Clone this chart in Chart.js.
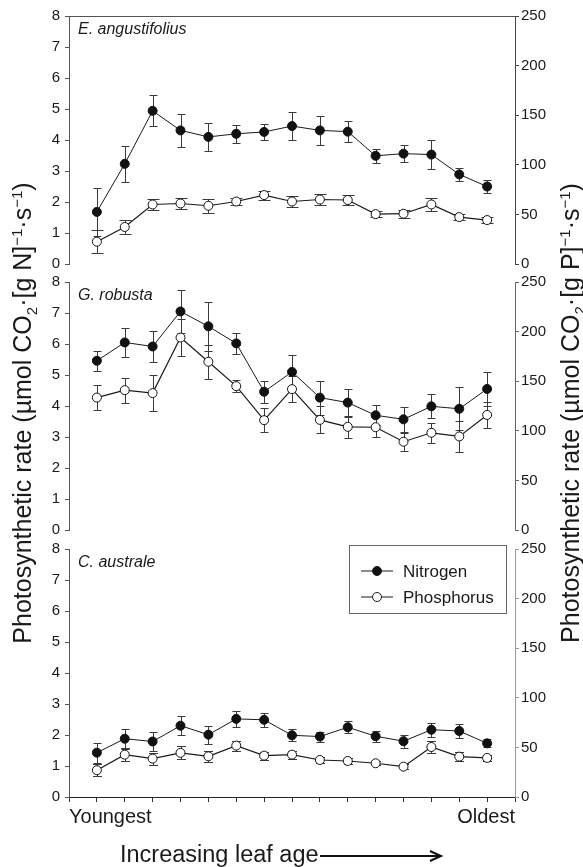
<!DOCTYPE html>
<html>
<head>
<meta charset="utf-8">
<script src="https://cdn.jsdelivr.net/npm/chart.js@4.4.1/dist/chart.umd.min.js"></script>
<style>
  body { margin: 0; background: #fff; font-family: "Liberation Sans", Arial, sans-serif; color: #1a1a1a; }
  #wrap { position: relative; width: 583px; height: 867px; overflow: hidden; }
  canvas { position: absolute; left: 0; }
  .ytitle { position: absolute; width: 600px; height: 28px; line-height: 28px; text-align: center;
            font-size: 25px; white-space: nowrap; transform: rotate(-90deg); }
  .ytitle sub, .ytitle sup { font-size: 0.6em; }
  #xtitle { position: absolute; left: 120px; top: 842px; font-size: 23.5px; white-space: nowrap; line-height: 24px; }
  #xtitle svg { vertical-align: middle; margin-left: 1px; }
</style>
</head>
<body>
<div id="wrap">
  <canvas id="panel_ea" width="583" height="280" style="top:0px"></canvas>
  <canvas id="panel_gr" width="583" height="280" style="top:266px"></canvas>
  <canvas id="panel_ca" width="583" height="304" style="top:533px"></canvas>
  <div class="ytitle" style="left:-283px; top:399px">Photosynthetic rate (µmol CO<sub>2</sub>·[g N]<sup>−1</sup>·s<sup>−1</sup>)</div>
  <div class="ytitle" style="left:265px; top:399px">Photosynthetic rate (µmol CO<sub>2</sub>·[g P]<sup>−1</sup>·s<sup>−1</sup>)</div>
  <div id="xtitle">Increasing leaf age<svg width="124" height="14"><line x1="0" y1="7" x2="121" y2="7" stroke="#111" stroke-width="2"/><polyline points="110,2 121,7 110,12" fill="none" stroke="#111" stroke-width="2"/></svg></div>
</div>
<script>
// leaf rank along the shoot, youngest -> oldest
const leafRank = [1, 2, 3, 4, 5, 6, 7, 8, 9, 10, 11, 12, 13, 14, 15];
const xEndLabels = ["Youngest", "Oldest"];
const nTicks = [0, 1, 2, 3, 4, 5, 6, 7, 8];
const pTicks = [0, 50, 100, 150, 200, 250];

// E. angustifolius (N on left axis, P on right axis)
const eaN = [1.68, 3.23, 4.94, 4.31, 4.10, 4.20, 4.26, 4.45, 4.31, 4.27, 3.49, 3.56, 3.53, 2.89, 2.50];
const eaNErr = [0.77, 0.58, 0.50, 0.52, 0.45, 0.30, 0.27, 0.45, 0.48, 0.33, 0.23, 0.27, 0.48, 0.22, 0.20];
const eaP = [22.5, 37.3, 60.0, 61.0, 58.7, 63.0, 69.5, 63.0, 65.0, 64.5, 50.3, 50.7, 60.0, 47.3, 44.3];
const eaPErr = [11.5, 7.0, 5.7, 6.0, 7.0, 4.0, 4.5, 6.0, 6.0, 5.5, 3.0, 4.0, 6.5, 3.0, 3.0];

// G. robusta
const grN = [5.46, 6.05, 5.92, 7.05, 6.57, 6.02, 4.46, 5.10, 4.27, 4.11, 3.70, 3.57, 3.99, 3.91, 4.55];
const grNErr = [0.33, 0.46, 0.50, 0.70, 0.80, 0.33, 0.35, 0.56, 0.55, 0.45, 0.32, 0.41, 0.39, 0.69, 0.56];
const grP = [133.5, 141, 138, 194, 169.6, 145, 110.7, 142, 111, 104, 103.6, 89, 98, 94.3, 116];
const grPErr = [12.5, 12.5, 18, 19, 17, 6, 12, 13, 13.5, 11, 10, 9, 10, 16, 13.5];

// C. australe
const caN = [1.43, 1.88, 1.79, 2.30, 2.01, 2.52, 2.49, 1.99, 1.95, 2.25, 1.96, 1.80, 2.17, 2.13, 1.73];
const caNErr = [0.32, 0.32, 0.30, 0.31, 0.29, 0.27, 0.23, 0.19, 0.16, 0.19, 0.17, 0.21, 0.23, 0.24, 0.13];
const caP = [27, 42.7, 38.7, 44.5, 41, 51.8, 41.7, 42.7, 37.3, 36.3, 34, 30.6, 50.4, 40.7, 39.4];
const caPErr = [6.3, 6.5, 6, 6.5, 5.5, 5, 4, 4, 3.3, 3, 2, 2.5, 6.5, 4.5, 3];

Chart.defaults.font.family = '"Liberation Sans", Arial, sans-serif';
Chart.defaults.color = "#1a1a1a";

// error bars drawn under the lines/markers
const errorBars = {
  id: "errorBars",
  beforeDatasetsDraw(chart) {
    const ctx = chart.ctx;
    chart.data.datasets.forEach((ds, i) => {
      const meta = chart.getDatasetMeta(i);
      const yScale = chart.scales[ds.yAxisID];
      ctx.save();
      ctx.strokeStyle = "#3a3a3a";
      ctx.lineWidth = 1;
      meta.data.forEach((pt, j) => {
        const v = ds.data[j].y;
        const e = ds.errors[j];
        const x = Math.round(pt.x) + 0.5;
        const yTop = Math.round(yScale.getPixelForValue(v + e)) + 0.5;
        const yBot = Math.round(yScale.getPixelForValue(v - e)) + 0.5;
        ctx.beginPath();
        ctx.moveTo(x, yTop);
        ctx.lineTo(x, yBot);
        ctx.moveTo(x - ds.capHalf, yTop);
        ctx.lineTo(x + ds.capHalf, yTop);
        ctx.moveTo(x - ds.capHalf, yBot);
        ctx.lineTo(x + ds.capHalf, yBot);
        ctx.stroke();
      });
      ctx.restore();
    });
  },
};

// species name, optional top frame line, optional legend box
const panelDecor = {
  id: "panelDecor",
  afterDraw(chart, args, opts) {
    const ctx = chart.ctx;
    const ca = chart.chartArea;
    ctx.save();
    ctx.fillStyle = "#1a1a1a";
    ctx.font = 'italic 16px "Liberation Sans", Arial, sans-serif';
    ctx.textBaseline = "middle";
    ctx.fillText(opts.title, ca.left + 9, ca.top + 14);

    if (opts.topLine) {
      ctx.strokeStyle = "#555";
      ctx.lineWidth = 1;
      ctx.beginPath();
      ctx.moveTo(ca.left, Math.round(ca.top) + 0.5);
      ctx.lineTo(ca.right, Math.round(ca.top) + 0.5);
      ctx.stroke();
    }

    if (opts.legend) {
      const x1 = ca.left + 280, x2 = ca.right - 9;
      const y1 = ca.top - 4, y2 = ca.top + 64;
      ctx.strokeStyle = "#666";
      ctx.lineWidth = 1;
      ctx.strokeRect(Math.round(x1) + 0.5, Math.round(y1) + 0.5, x2 - x1, y2 - y1);
      ctx.font = '17px "Liberation Sans", Arial, sans-serif';
      chart.data.datasets.forEach((ds, i) => {
        const y = ca.top + 22 + i * 26;
        ctx.strokeStyle = "#1a1a1a";
        ctx.beginPath();
        ctx.moveTo(x1 + 12, y);
        ctx.lineTo(x1 + 44, y);
        ctx.stroke();
        ctx.beginPath();
        ctx.arc(x1 + 28, y, 4.5, 0, Math.PI * 2);
        ctx.fillStyle = ds.pointBackgroundColor;
        ctx.fill();
        ctx.stroke();
        ctx.fillStyle = "#1a1a1a";
        ctx.fillText(ds.label, x1 + 54, y + 1);
      });
    }
    ctx.restore();
  },
};

function toPoints(vals) {
  return vals.map((v, i) => ({ x: leafRank[i], y: v }));
}

function makePanel(canvasId, title, nVals, nErr, pVals, pErr, opt) {
  const isBottom = !!opt.bottom;
  return new Chart(document.getElementById(canvasId), {
    type: "line",
    data: {
      datasets: [
        {
          label: "Nitrogen",
          data: toPoints(nVals),
          errors: nErr,
          capHalf: 4,
          yAxisID: "yN",
          borderColor: "#1a1a1a",
          borderWidth: 1,
          pointRadius: 4.5,
          pointBorderWidth: 1,
          pointBackgroundColor: "#111",
          pointBorderColor: "#111",
          tension: 0,
        },
        {
          label: "Phosphorus",
          data: toPoints(pVals),
          errors: pErr,
          capHalf: opt.pCap,
          yAxisID: "yP",
          borderColor: "#1a1a1a",
          borderWidth: 1.2,
          pointRadius: 4.5,
          pointBorderWidth: 1,
          pointBackgroundColor: "#fff",
          pointBorderColor: "#111",
          tension: 0,
        },
      ],
    },
    options: {
      responsive: false,
      animation: false,
      events: [],
      layout: { padding: { top: 16, bottom: isBottom ? 0 : 16, left: 0, right: 0 } },
      plugins: {
        legend: { display: false },
        tooltip: { enabled: false },
        panelDecor: { title: title, topLine: !!opt.topLine, legend: !!opt.legend },
      },
      scales: {
        x: {
          type: "linear",
          min: 0,
          max: 16,
          display: isBottom,
          grid: { drawOnChartArea: false, drawTicks: true, tickLength: 5, color: "#333" },
          border: { display: true, color: "#222" },
          ticks: {
            stepSize: 1,
            autoSkip: false,
            maxRotation: 0,
            align: "inner",
            padding: 3,
            font: { size: 20 },
            callback: (v) => (v === 0 ? xEndLabels[0] : v === 16 ? xEndLabels[1] : ""),
          },
          afterFit: (s) => { s.height = isBottom ? 40 : 0; },
        },
        yN: {
          position: "left",
          min: nTicks[0],
          max: nTicks[nTicks.length - 1],
          grid: { drawOnChartArea: false, tickLength: 4, color: "#555" },
          border: { color: "#555" },
          ticks: { stepSize: 1, padding: 5, font: { size: 15 } },
          afterBuildTicks: (s) => { s.ticks = nTicks.map((v) => ({ value: v })); },
          afterFit: (s) => { s.width = 69; },
        },
        yP: {
          position: "right",
          min: pTicks[0],
          max: pTicks[pTicks.length - 1],
          grid: { drawOnChartArea: false, tickLength: 4, color: opt.rightColor },
          border: { color: opt.rightColor, dash: opt.rightDash },
          ticks: { stepSize: 50, padding: 2, font: { size: 15 } },
          afterBuildTicks: (s) => { s.ticks = pTicks.map((v) => ({ value: v })); },
          afterFit: (s) => { s.width = 68; },
        },
      },
    },
    plugins: [errorBars, panelDecor],
  });
}

makePanel("panel_ea", "E. angustifolius", eaN, eaNErr, eaP, eaPErr,
  { topLine: true, pCap: 6, rightColor: "#444", rightDash: [] });
makePanel("panel_gr", "G. robusta", grN, grNErr, grP, grPErr,
  { pCap: 4, rightColor: "#666", rightDash: [] });
makePanel("panel_ca", "C. australe", caN, caNErr, caP, caPErr,
  { bottom: true, legend: true, pCap: 4.5, rightColor: "#999", rightDash: [1, 2] });
</script>
</body>
</html>
